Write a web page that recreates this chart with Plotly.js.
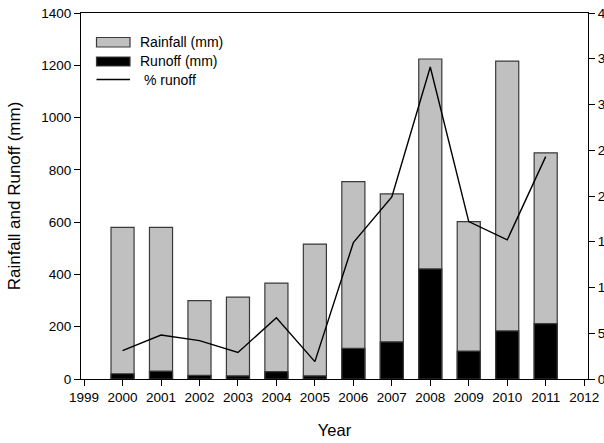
<!DOCTYPE html>
<html>
<head>
<meta charset="utf-8">
<script src="https://cdn.plot.ly/plotly-3.0.1.min.js"></script>
<style>
html, body { margin: 0; padding: 0; overflow: hidden; background: #fff; width: 604px; height: 443px; }
#chart { width: 624px; height: 443px; }
</style>
</head>
<body>
<div id="chart"></div>
<script>
const years = [2000, 2001, 2002, 2003, 2004, 2005, 2006, 2007, 2008, 2009, 2010, 2011];
const rainfall = [580, 580, 300, 313, 367, 516, 755, 708, 1224, 602, 1216, 865];
const runoff = [20, 30, 14, 12, 28, 12, 117, 142, 421, 107, 184, 212];
const pctRunoff = [3.1, 4.8, 4.2, 2.9, 6.7, 1.9, 14.9, 19.9, 34.1, 17.2, 15.2, 24.3];
const seriesNames = ['Rainfall (mm)', 'Runoff (mm)', '% runoff'];

const FONT = 'Arial, "Liberation Sans", sans-serif';
const OUTLINE = '#3a3a3a';

const traces = [
  {
    type: 'bar', name: seriesNames[0], x: years, y: rainfall, width: 0.6,
    marker: { color: '#c0c0c0', line: { color: OUTLINE, width: 1.2 } },
    yaxis: 'y'
  },
  {
    type: 'bar', name: seriesNames[1], x: years, y: runoff, width: 0.6,
    marker: { color: '#000000', line: { color: OUTLINE, width: 1.2 } },
    yaxis: 'y'
  },
  {
    type: 'scatter', mode: 'lines', name: seriesNames[2], x: years, y: pctRunoff,
    line: { color: '#000000', width: 1.4 },
    yaxis: 'y2'
  }
];

// plot area in pixels: x 81..588, y 13..379
const PL = 81, PW = 507, PT = 13, PH = 366;
const px = v => (v - PL) / PW;
const py = v => (PT + PH - v) / PH;

const legendShapes = [
  { type: 'rect', xref: 'paper', yref: 'paper', x0: px(96.5), x1: px(130), y0: py(47), y1: py(37.5),
    fillcolor: '#c0c0c0', line: { color: OUTLINE, width: 1.2 } },
  { type: 'rect', xref: 'paper', yref: 'paper', x0: px(96.5), x1: px(130), y0: py(66), y1: py(57),
    fillcolor: '#000000', line: { color: OUTLINE, width: 1.2 } },
  { type: 'line', xref: 'paper', yref: 'paper', x0: px(96.5), x1: px(130), y0: py(79.5), y1: py(79.5),
    line: { color: '#000000', width: 1.4 } }
];
const legendText = [
  { t: seriesNames[0], x: 137.5, y: 42 },
  { t: seriesNames[1], x: 137.5, y: 61 },
  { t: ' ' + seriesNames[2], x: 137.5, y: 79.5 }
].map(o => ({
  xref: 'paper', yref: 'paper', x: px(o.x), y: py(o.y), xanchor: 'left', yanchor: 'middle',
  text: o.t, showarrow: false, font: { family: FONT, size: 14, color: '#000' }
}));

const layout = {
  width: 624, height: 443,
  margin: { l: 81, r: 36, t: 13, b: 64, pad: 0 },
  paper_bgcolor: '#ffffff', plot_bgcolor: '#ffffff',
  font: { family: FONT, color: '#000', size: 13.5 },
  barmode: 'overlay',
  showlegend: false,
  shapes: legendShapes,
  annotations: legendText,
  xaxis: {
    range: [1998.92, 2012.1], tick0: 1999, dtick: 1,
    showgrid: false, zeroline: false,
    showline: true, linecolor: '#000', linewidth: 1, mirror: true,
    ticks: 'outside', ticklen: 6, tickcolor: '#000', tickwidth: 1,
    tickfont: { family: FONT, size: 13.5, color: '#000' },
    title: { text: 'Year', font: { family: FONT, size: 16.5, color: '#000' }, standoff: 20 }
  },
  yaxis: {
    range: [0, 1400], dtick: 200,
    showgrid: false, zeroline: false,
    showline: true, linecolor: '#000', linewidth: 1,
    ticks: 'outside', ticklen: 6, tickcolor: '#000', tickwidth: 1,
    tickfont: { family: FONT, size: 13.5, color: '#000' },
    title: { text: 'Rainfall and Runoff (mm)', font: { family: FONT, size: 17, color: '#000' }, standoff: 16 }
  },
  yaxis2: {
    range: [0, 40], dtick: 5, overlaying: 'y', side: 'right',
    showgrid: false, zeroline: false,
    showline: true, linecolor: '#000', linewidth: 1,
    ticks: 'outside', ticklen: 6, tickcolor: '#000', tickwidth: 1,
    tickfont: { family: FONT, size: 13.5, color: '#000' }
  }
};

Plotly.newPlot('chart', traces, layout, { displayModeBar: false, staticPlot: true });
</script>
</body>
</html>
